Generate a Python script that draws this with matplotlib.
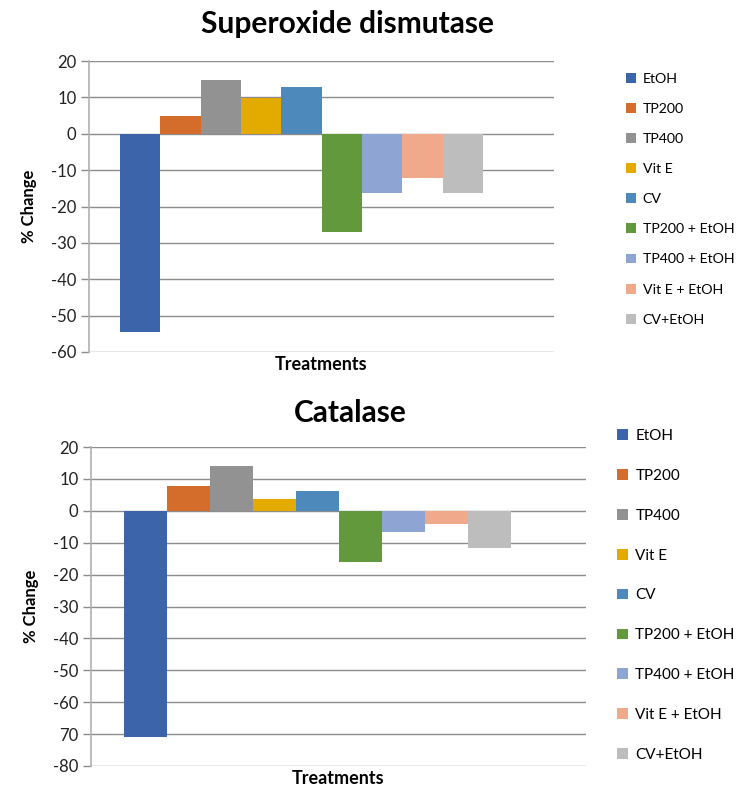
"""Percent change of antioxidant enzymes (SOD and catalase) by treatment."""
import matplotlib
matplotlib.use("Agg")
import matplotlib.pyplot as plt
from matplotlib.patches import Patch

plt.rcParams.update({
    "font.family": ["Lato", "DejaVu Sans"],
    "figure.dpi": 100,
})

TREATMENTS = ["EtOH", "TP200", "TP400", "Vit E", "CV",
              "TP200 + EtOH", "TP400 + EtOH", "Vit E + EtOH", "CV+EtOH"]
COLORS = ["#3c64aa", "#d46d2b", "#929292", "#e3ab00", "#4e89bc",
          "#63993d", "#8ea4d2", "#f0a98a", "#bdbdbd"]

SOD = [-54.4, 4.9, 14.8, 9.7, 12.9, -27.0, -16.3, -12.3, -16.3]
CAT = [-70.8, 7.8, 14.1, 3.8, 6.3, -15.9, -6.8, -4.0, -11.8]

SOD_TICKS = [20, 10, 0, -10, -20, -30, -40, -50, -60]
SOD_TICKLABELS = ["20", "10", "0", "-10", "-20", "-30", "-40", "-50", "-60"]
CAT_TICKS = [20, 10, 0, -10, -20, -30, -40, -50, -60, -70, -80]
CAT_TICKLABELS = ["20", "10", "0", "-10", "-20", "-30", "-40", "-50", "-60", "70", "-80"]

GRID = "#8c8c8c"


def panel(fig, rect, values, ticks, ticklabels, title, title_x, title_pad,
          xlim, legend_anchor, legend_size, spacing):
    ax = fig.add_axes(rect)
    xs = range(len(values))
    ax.bar(xs, values, width=1.0, color=COLORS, edgecolor="none", zorder=3)
    ax.set_ylim(min(ticks), max(ticks))
    ax.set_xlim(*xlim)
    ax.set_yticks(ticks)
    ax.set_yticklabels(ticklabels, fontsize=12, color="#222222")
    ax.set_xticks([])
    ax.yaxis.grid(True, color=GRID, linewidth=1.0, zorder=0)
    for side in ("top", "right", "bottom"):
        ax.spines[side].set_visible(False)
    ax.spines["left"].set_color("#b0b0b0")
    ax.spines["left"].set_linewidth(1.2)
    ax.tick_params(axis="y", length=6, width=1.0, color=GRID, pad=3)
    ax.set_ylabel("% Change", fontsize=12, fontweight="bold", labelpad=10)
    ax.set_xlabel("Treatments", fontsize=13, fontweight="bold", labelpad=3)
    ax.set_title(title, fontsize=21.5, fontweight="bold", pad=title_pad, x=title_x)
    handles = [Patch(facecolor=c, edgecolor="none") for c in COLORS]
    fig.legend(handles, TREATMENTS, loc="upper left", bbox_to_anchor=legend_anchor,
               frameon=False, fontsize=legend_size, handlelength=0.7, handleheight=0.7,
               handletextpad=0.5, labelspacing=spacing, borderaxespad=0)
    return ax


def main() -> None:
    fig = plt.figure(figsize=(7.41, 7.89))
    W, H = 741, 789
    # top panel: axis x 89..554 px, y 61..352 px
    panel(fig, [89 / W, 1 - 352 / H, 465 / W, 291 / H], SOD,
          SOD_TICKS, SOD_TICKLABELS, "Superoxide dismutase", 0.555, 20,
          (-1.27, 10.26), (620 / W, 1 - 67 / H), 10.2, 1.28)
    # bottom panel: axis x 91..586 px, y 447..766 px
    panel(fig, [91 / W, 1 - 766 / H, 495 / W, 319 / H], CAT,
          CAT_TICKS, CAT_TICKLABELS, "Catalase", 0.523, 18,
          (-1.26, 10.23), (611 / W, 1 - 423 / H), 11, 1.69)
    fig.savefig("out.png", dpi=100)
    plt.close(fig)


if __name__ == "__main__":
    main()
